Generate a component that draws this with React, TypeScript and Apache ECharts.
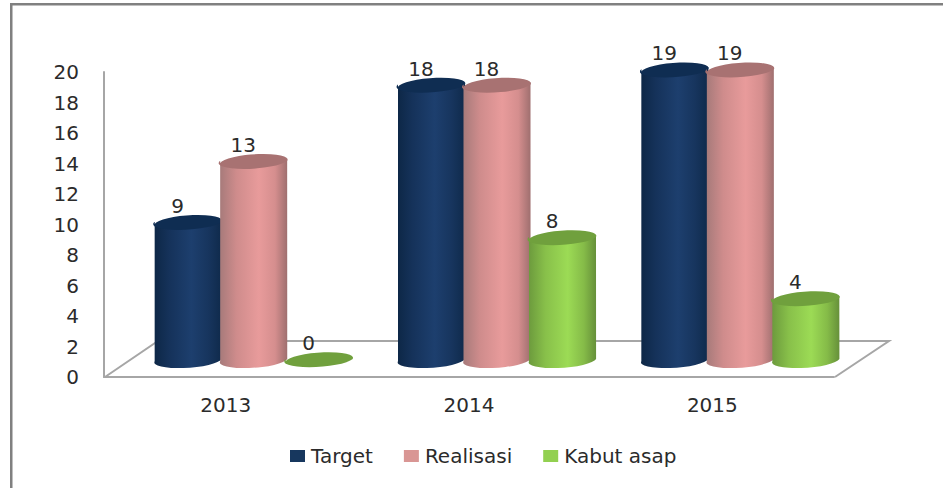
import React, { useEffect, useRef } from "react";
import * as echarts from "echarts";

const years = ["2013", "2014", "2015"];
const target = [9, 18, 19];
const realisasi = [13, 18, 19];
const kabutAsap = [0, 8, 4];
const yTicksMax = 20;

const FONT = "'DejaVu Sans', sans-serif";
const TEXT = "#2b2b2b";
const LINE = "#a6a6a6";
const DEPTH_X = 28;
const DEPTH_Y = -18;
const SPACING = 65.5;
const RX = 33.5;
const RY = 7.5;
const TILT_DEG = -4;
const tiltDY = RX * Math.sin((TILT_DEG * Math.PI) / 180);

type Palette = { name: string; legend: string; stops: [number, string][]; top: string };
const palettes: Palette[] = [
  {
    name: "Target",
    legend: "#17375e",
    stops: [[0, "#0d2746"], [0.22, "#15325a"], [0.55, "#1d3f6e"], [0.8, "#17355e"], [1, "#0f2a4b"]],
    top: "#0f2d52",
  },
  {
    name: "Realisasi",
    legend: "#d99694",
    stops: [[0, "#a67a7a"], [0.25, "#cf8c8c"], [0.58, "#e89b9b"], [0.82, "#d58e8e"], [1, "#9f6f6f"]],
    top: "#a87272",
  },
  {
    name: "Kabut asap",
    legend: "#92d050",
    stops: [[0, "#6c9a3d"], [0.25, "#88c04a"], [0.58, "#9cdb55"], [0.82, "#85bb48"], [1, "#66903a"]],
    top: "#70a03d",
  },
];

function cylinder(pal: Palette, offsetIndex: number) {
  return (_params: any, api: any) => {
    const cat = api.value(0);
    const v = api.value(1);
    const top = api.coord([cat, v]);
    const base = api.coord([cat, 0]);
    const cx = top[0] + DEPTH_X + offsetIndex * SPACING;
    const yt = top[1] + DEPTH_Y;
    const yb = base[1] + DEPTH_Y;
    const l = cx - RX;
    const r = cx + RX;
    const children: any[] = [];
    if (v > 0) {
      const body =
        `M${l} ${yt - tiltDY}L${l} ${yb - tiltDY}` +
        `A${RX} ${RY} ${TILT_DEG} 0 0 ${r} ${yb + tiltDY}` +
        `L${r} ${yt + tiltDY}A${RX} ${RY} ${TILT_DEG} 0 1 ${l} ${yt - tiltDY}Z`;
      children.push({
        type: "path",
        shape: { pathData: body },
        style: {
          fill: new echarts.graphic.LinearGradient(
            0,
            0,
            1,
            0,
            pal.stops.map(([offset, color]) => ({ offset, color }))
          ),
        },
      });
    }
    const cap =
      `M${l} ${yt - tiltDY}A${RX} ${RY} ${TILT_DEG} 0 1 ${r} ${yt + tiltDY}` +
      `A${RX} ${RY} ${TILT_DEG} 0 1 ${l} ${yt - tiltDY}Z`;
    children.push({ type: "path", shape: { pathData: cap }, style: { fill: pal.top } });
    children.push({
      type: "text",
      style: {
        text: String(v),
        x: cx - 10.5,
        y: yt - 16,
        fill: TEXT,
        fontSize: 20,
        fontFamily: FONT,
        textAlign: "center",
        textVerticalAlign: "middle",
      },
    });
    return { type: "group", children };
  };
}

function floor(params: any) {
  const c = params.coordSys;
  const x0 = c.x;
  const x1 = c.x + c.width;
  const y = c.y + c.height;
  return {
    type: "polyline",
    shape: {
      points: [
        [x0 + 1, y],
        [x0 + 54, y - 36],
        [x1 + 55, y - 36],
        [x1 + 1, y],
      ],
    },
    style: { stroke: LINE, lineWidth: 2, fill: "none" },
  };
}

export default function App() {
  const ref = useRef<HTMLDivElement>(null);
  useEffect(() => {
    document.body.style.margin = "0";
    const chart = echarts.init(ref.current!, undefined, { renderer: "svg" });
    const seriesValues = [target, realisasi, kabutAsap];
    chart.setOption({
      animation: false,
      backgroundColor: "#ffffff",
      textStyle: { fontFamily: FONT },
      grid: { left: 104, right: 109, top: 72, bottom: 111 },
      xAxis: {
        type: "category",
        data: years,
        axisLine: { lineStyle: { color: LINE, width: 2 } },
        axisTick: { show: false },
        axisLabel: { color: TEXT, fontSize: 20, fontFamily: FONT, margin: 18 },
      },
      yAxis: {
        type: "value",
        min: 0,
        max: yTicksMax,
        interval: 2,
        axisLine: { show: true, lineStyle: { color: LINE, width: 2 } },
        axisTick: { show: false },
        splitLine: { show: false },
        axisLabel: { color: TEXT, fontSize: 20, fontFamily: FONT, margin: 25 },
      },
      legend: {
        left: 290,
        top: 446,
        itemWidth: 15,
        itemHeight: 12,
        itemGap: 31,
        icon: "rect",
        selectedMode: false,
        data: palettes.map((p) => p.name),
        textStyle: { color: TEXT, fontSize: 20, fontFamily: FONT, padding: [0, 0, 0, 1] },
        padding: 0,
      },
      graphic: [
        { type: "rect", left: 10, top: 3, shape: { width: 933, height: 2.5 }, style: { fill: "#808080" } },
        { type: "rect", left: 10, top: 3, shape: { width: 2.5, height: 485 }, style: { fill: "#808080" } },
      ],
      series: [
        {
          type: "custom",
          name: "floor",
          silent: true,
          data: [[0, 0]],
          encode: { x: 0, y: 1 },
          renderItem: floor,
          z: 1,
        },
        ...palettes.map((pal, i) => ({
          type: "custom",
          name: pal.name,
          data: seriesValues[i].map((v, c) => [c, v]),
          encode: { x: 0, y: 1 },
          itemStyle: { color: pal.legend },
          renderItem: cylinder(pal, i - 1),
          z: 2 + i,
          clip: false,
        })),
      ],
    });
    return () => chart.dispose();
  }, []);
  return <div ref={ref} style={{ width: 943, height: 488, position: "absolute", left: 0, top: 0 }} />;
}
